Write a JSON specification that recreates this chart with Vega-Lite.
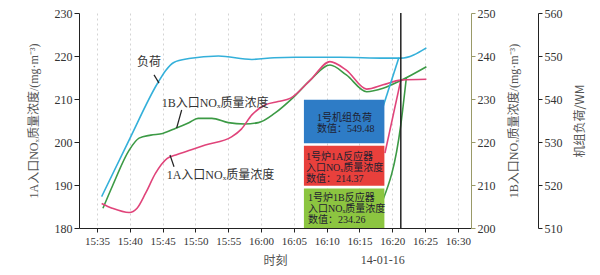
{
  "$schema": "https://vega.github.io/schema/vega-lite/v6.json",
  "width": 392,
  "height": 215,
  "autosize": {"type": "none"},
  "padding": {"left": 79, "top": 13, "right": 129, "bottom": 47},
  "background": "white",
  "config": {
    "view": {"stroke": null},
    "font": "Liberation Serif, Noto Sans CJK SC",
    "axis": {
      "labelFont": "Liberation Serif",
      "labelFontSize": 12,
      "labelColor": "#333",
      "titleFont": "Liberation Serif, Noto Sans CJK SC",
      "titleFontSize": 12,
      "titleFontWeight": "normal",
      "titleColor": "#555",
      "domainColor": "#222",
      "tickColor": "#222",
      "grid": false
    }
  },
  "datasets": {
    "load": [
      {"t": "2014-01-16T15:35:42", "v": 517.3, "seg": "main"},
      {"t": "2014-01-16T15:39:54", "v": 530.5, "seg": "main"},
      {"t": "2014-01-16T15:44:12", "v": 543.6, "seg": "main"},
      {"t": "2014-01-16T15:45:30", "v": 546.7, "seg": "main"},
      {"t": "2014-01-16T15:46:42", "v": 548.5, "seg": "main"},
      {"t": "2014-01-16T15:49:00", "v": 549.4, "seg": "main"},
      {"t": "2014-01-16T15:53:30", "v": 550.0, "seg": "main"},
      {"t": "2014-01-16T15:58:36", "v": 549.2, "seg": "main"},
      {"t": "2014-01-16T16:02:00", "v": 549.6, "seg": "main"},
      {"t": "2014-01-16T16:05:12", "v": 549.7, "seg": "main"},
      {"t": "2014-01-16T16:12:00", "v": 549.7, "seg": "main"},
      {"t": "2014-01-16T16:18:54", "v": 549.5, "seg": "main"},
      {"t": "2014-01-16T16:21:18", "v": 549.5, "seg": "main"},
      {"t": "2014-01-16T16:25:12", "v": 551.9, "seg": "main"},
      {"t": "2014-01-16T16:18:34", "v": 538.1, "seg": "rise"},
      {"t": "2014-01-16T16:21:00", "v": 549.6, "seg": "rise"}
    ],
    "noxA": [
      {"t": "2014-01-16T15:35:42", "v": 185.7, "seg": "main"},
      {"t": "2014-01-16T15:37:18", "v": 184.6, "seg": "main"},
      {"t": "2014-01-16T15:39:54", "v": 183.6, "seg": "main"},
      {"t": "2014-01-16T15:41:06", "v": 184.6, "seg": "main"},
      {"t": "2014-01-16T15:42:24", "v": 188.1, "seg": "main"},
      {"t": "2014-01-16T15:43:54", "v": 192.7, "seg": "main"},
      {"t": "2014-01-16T15:45:42", "v": 196.2, "seg": "main"},
      {"t": "2014-01-16T15:47:00", "v": 197.0, "seg": "main"},
      {"t": "2014-01-16T15:49:00", "v": 198.0, "seg": "main"},
      {"t": "2014-01-16T15:51:30", "v": 199.3, "seg": "main"},
      {"t": "2014-01-16T15:55:30", "v": 201.2, "seg": "main"},
      {"t": "2014-01-16T15:57:00", "v": 203.0, "seg": "main"},
      {"t": "2014-01-16T15:58:36", "v": 206.3, "seg": "main"},
      {"t": "2014-01-16T16:00:36", "v": 208.6, "seg": "main"},
      {"t": "2014-01-16T16:02:36", "v": 209.4, "seg": "main"},
      {"t": "2014-01-16T16:04:30", "v": 210.2, "seg": "main"},
      {"t": "2014-01-16T16:07:30", "v": 214.4, "seg": "main"},
      {"t": "2014-01-16T16:10:30", "v": 218.7, "seg": "main"},
      {"t": "2014-01-16T16:13:00", "v": 216.7, "seg": "main"},
      {"t": "2014-01-16T16:16:06", "v": 212.3, "seg": "main"},
      {"t": "2014-01-16T16:18:36", "v": 213.3, "seg": "main"},
      {"t": "2014-01-16T16:21:18", "v": 214.4, "seg": "main"},
      {"t": "2014-01-16T16:25:12", "v": 214.6, "seg": "main"},
      {"t": "2014-01-16T16:18:53", "v": 197.4, "seg": "rise"},
      {"t": "2014-01-16T16:21:18", "v": 214.4, "seg": "rise"}
    ],
    "noxB": [
      {"t": "2014-01-16T15:35:54", "v": 204.6, "seg": "main"},
      {"t": "2014-01-16T15:37:18", "v": 209.6, "seg": "main"},
      {"t": "2014-01-16T15:39:54", "v": 218.1, "seg": "main"},
      {"t": "2014-01-16T15:41:24", "v": 220.9, "seg": "main"},
      {"t": "2014-01-16T15:43:12", "v": 221.6, "seg": "main"},
      {"t": "2014-01-16T15:45:00", "v": 222.0, "seg": "main"},
      {"t": "2014-01-16T15:47:00", "v": 223.2, "seg": "main"},
      {"t": "2014-01-16T15:49:00", "v": 224.5, "seg": "main"},
      {"t": "2014-01-16T15:50:24", "v": 225.5, "seg": "main"},
      {"t": "2014-01-16T15:52:30", "v": 225.5, "seg": "main"},
      {"t": "2014-01-16T15:55:00", "v": 224.5, "seg": "main"},
      {"t": "2014-01-16T15:57:30", "v": 224.2, "seg": "main"},
      {"t": "2014-01-16T15:59:36", "v": 224.5, "seg": "main"},
      {"t": "2014-01-16T16:02:06", "v": 226.7, "seg": "main"},
      {"t": "2014-01-16T16:04:48", "v": 230.2, "seg": "main"},
      {"t": "2014-01-16T16:07:30", "v": 234.4, "seg": "main"},
      {"t": "2014-01-16T16:10:30", "v": 237.9, "seg": "main"},
      {"t": "2014-01-16T16:13:00", "v": 235.6, "seg": "main"},
      {"t": "2014-01-16T16:16:06", "v": 231.7, "seg": "main"},
      {"t": "2014-01-16T16:18:36", "v": 232.5, "seg": "main"},
      {"t": "2014-01-16T16:21:18", "v": 234.3, "seg": "main"},
      {"t": "2014-01-16T16:25:12", "v": 237.5, "seg": "main"},
      {"t": "2014-01-16T16:18:34", "v": 206.5, "seg": "rise"},
      {"t": "2014-01-16T16:21:18", "v": 224.0, "seg": "rise"},
      {"t": "2014-01-16T16:22:09", "v": 235.0, "seg": "rise"}
    ],
    "boxes": [
      {"kind": "load", "t": "2014-01-16T16:06:32", "t2": "2014-01-16T16:18:48", "v": 199.7, "v2": 209.8},
      {"kind": "a", "t": "2014-01-16T16:06:32", "t2": "2014-01-16T16:18:48", "v": 189.8, "v2": 199.1},
      {"kind": "b", "t": "2014-01-16T16:06:32", "t2": "2014-01-16T16:18:48", "v": 180.0, "v2": 189.2}
    ],
    "boxtext": [
      {"t": "2014-01-16T16:08:31", "v": 206.7, "text": "1号机组负荷\n数值：549.48"},
      {"t": "2014-01-16T16:06:50", "v": 197.7, "text": "1号炉1A反应器\n入口NOₓ质量浓度\n数值：214.37"},
      {"t": "2014-01-16T16:07:09", "v": 188.1, "text": "1号炉1B反应器\n入口NOₓ质量浓度\n数值：234.26"}
    ],
    "labels": [
      {"t": "2014-01-16T15:41:05", "v": 218.6, "text": "负荷"},
      {"t": "2014-01-16T15:44:51", "v": 209.07, "text": "1B入口NOₓ质量浓度"},
      {"t": "2014-01-16T15:45:37", "v": 192.33, "text": "1A入口NOₓ质量浓度"}
    ],
    "pointers": [
      {"t": "2014-01-16T15:43:41", "t2": "2014-01-16T15:44:27", "v": 215.6, "v2": 213.7},
      {"t": "2014-01-16T15:47:54", "t2": "2014-01-16T15:47:08", "v": 207.44, "v2": 203.26},
      {"t": "2014-01-16T15:46:44", "t2": "2014-01-16T15:46:07", "v": 194.26, "v2": 196.98}
    ],
    "cursor": [{"t": "2014-01-16T16:21:18"}],
    "date": [{"t": "2014-01-16T16:18:34", "v": 172.56, "text": "14-01-16"}]
  },
  "encoding": {
    "x": {
      "field": "t",
      "type": "temporal",
      "scale": {"domain": [
        {"year": 2014, "month": 1, "date": 16, "hours": 15, "minutes": 32, "seconds": 15},
        {"year": 2014, "month": 1, "date": 16, "hours": 16, "minutes": 32}
      ]},
      "axis": {
        "title": "时刻",
        "titleFont": "Noto Sans CJK SC",
        "format": "%H:%M",
        "values": [
          {"year": 2014, "month": 1, "date": 16, "hours": 15, "minutes": 35},
          {"year": 2014, "month": 1, "date": 16, "hours": 15, "minutes": 40},
          {"year": 2014, "month": 1, "date": 16, "hours": 15, "minutes": 45},
          {"year": 2014, "month": 1, "date": 16, "hours": 15, "minutes": 50},
          {"year": 2014, "month": 1, "date": 16, "hours": 15, "minutes": 55},
          {"year": 2014, "month": 1, "date": 16, "hours": 16, "minutes": 0},
          {"year": 2014, "month": 1, "date": 16, "hours": 16, "minutes": 5},
          {"year": 2014, "month": 1, "date": 16, "hours": 16, "minutes": 10},
          {"year": 2014, "month": 1, "date": 16, "hours": 16, "minutes": 15},
          {"year": 2014, "month": 1, "date": 16, "hours": 16, "minutes": 20},
          {"year": 2014, "month": 1, "date": 16, "hours": 16, "minutes": 25},
          {"year": 2014, "month": 1, "date": 16, "hours": 16, "minutes": 30}
        ],
        "grid": true,
        "gridDash": [2, 3],
        "gridColor": "#d4d4d4",
        "tickSize": 4,
        "labelPadding": 3,
        "labelFontSize": 11,
        "labelFlush": false,
        "labelOverlap": false,
        "titlePadding": 9
      }
    }
  },
  "layer": [
    {
      "data": {"name": "noxB"},
      "mark": {"type": "line", "interpolate": "monotone", "color": "#3c9a45", "strokeWidth": 1.6},
      "encoding": {
        "y": {
          "field": "v", "type": "quantitative",
          "scale": {"domain": [200, 250], "nice": false, "zero": false},
          "axis": {
            "orient": "right",
            "values": [200, 210, 220, 230, 240, 250],
            "title": "1B入口NOₓ质量浓度/(mg·m⁻³)",
            "titleAngle": 270,
            "titleBaseline": "top",
            "titlePadding": 13,
            "domainColor": "#9a9a68",
            "tickColor": "#9a9a68",
            "tickSize": 4,
            "labelPadding": 2
          }
        },
        "detail": {"field": "seg"}
      }
    },
    {
      "data": {"name": "noxA"},
      "mark": {"type": "line", "interpolate": "monotone", "color": "#e0447a", "strokeWidth": 1.6},
      "encoding": {
        "y": {
          "field": "v", "type": "quantitative",
          "scale": {"domain": [180, 230], "nice": false, "zero": false},
          "axis": {
            "orient": "left",
            "values": [180, 190, 200, 210, 220, 230],
            "title": "1A入口NOₓ质量浓度/(mg·m⁻³)",
            "titlePadding": 14,
            "tickSize": 5,
            "labelPadding": 2
          }
        },
        "detail": {"field": "seg"}
      }
    },
    {
      "data": {"name": "load"},
      "mark": {"type": "line", "interpolate": "monotone", "color": "#34b0da", "strokeWidth": 1.6},
      "encoding": {
        "y": {
          "field": "v", "type": "quantitative",
          "scale": {"domain": [510, 560], "nice": false, "zero": false},
          "axis": {
            "orient": "right",
            "offset": 67,
            "values": [510, 520, 530, 540, 550, 560],
            "title": "机组负荷/WM",
            "titleFont": "Noto Sans CJK SC",
            "titleAngle": 270,
            "titleBaseline": "top",
            "titlePadding": 12,
            "tickSize": 4,
            "labelPadding": 2
          }
        },
        "detail": {"field": "seg"}
      }
    },
    {
      "data": {"name": "boxes"},
      "mark": {"type": "rect"},
      "encoding": {
        "x2": {"field": "t2"},
        "y": {"field": "v", "type": "quantitative", "scale": {"domain": [180, 230], "nice": false, "zero": false}, "axis": null},
        "y2": {"field": "v2"},
        "color": {"field": "kind", "type": "nominal", "scale": {"domain": ["load", "a", "b"], "range": ["#2e7cc6", "#e8403c", "#8cc540"]}, "legend": null}
      }
    },
    {
      "data": {"name": "boxtext"},
      "mark": {"type": "text", "align": "left", "baseline": "top", "fontSize": 10, "lineHeight": 11, "lineBreak": "\n", "color": "#1e2030", "font": "Liberation Serif, Noto Sans CJK SC"},
      "encoding": {
        "y": {"field": "v", "type": "quantitative", "scale": {"domain": [180, 230], "nice": false, "zero": false}, "axis": null},
        "text": {"field": "text"}
      }
    },
    {
      "data": {"name": "labels"},
      "mark": {"type": "text", "align": "left", "baseline": "middle", "fontSize": 12, "color": "#333", "font": "Liberation Serif, Noto Sans CJK SC"},
      "encoding": {
        "y": {"field": "v", "type": "quantitative", "scale": {"domain": [180, 230], "nice": false, "zero": false}, "axis": null},
        "text": {"field": "text"}
      }
    },
    {
      "data": {"name": "pointers"},
      "mark": {"type": "rule", "color": "#222", "strokeWidth": 1.2},
      "encoding": {
        "x2": {"field": "t2"},
        "y": {"field": "v", "type": "quantitative", "scale": {"domain": [180, 230], "nice": false, "zero": false}, "axis": null},
        "y2": {"field": "v2"}
      }
    },
    {
      "data": {"name": "cursor"},
      "mark": {"type": "rule", "color": "#222", "strokeWidth": 1.5},
      "encoding": {}
    },
    {
      "data": {"name": "date"},
      "mark": {"type": "text", "align": "center", "baseline": "middle", "fontSize": 12, "color": "#444", "font": "Liberation Serif"},
      "encoding": {
        "y": {"field": "v", "type": "quantitative", "scale": {"domain": [180, 230], "nice": false, "zero": false}, "axis": null},
        "text": {"field": "text"}
      }
    }
  ],
  "resolve": {"scale": {"y": "independent"}}
}
